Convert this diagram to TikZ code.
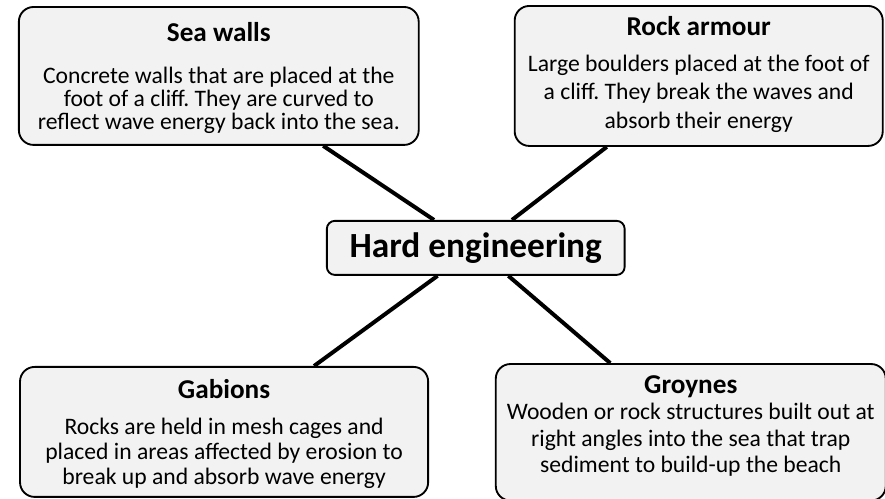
\documentclass[tikz,border=0pt]{standalone}
\usepackage{fontspec}
\setmainfont{Carlito}
\definecolor{boxgray}{HTML}{F2F2F2}
\tikzset{
  topic/.style={draw, line width=1.4pt, rounded corners=11pt, fill=boxgray, align=center, inner sep=0pt, font=\fontsize{17.8}{#1}\selectfont\frenchspacing},
  hub/.style={draw, line width=1.4pt, rounded corners=6pt, fill=boxgray, inner sep=0pt, font=\fontsize{26.6}{30}\selectfont\bfseries},
  spoke/.style={line width=3pt}
}
% bold heading with a fixed line height, and a fixed depth for the last line
\newcommand{\topichead}[1]{{\fontsize{20.5}{20}\selectfont\bfseries\rule{0pt}{22pt}#1}}
\newcommand{\lastdepth}[1]{\rule[-#1]{0pt}{#1}}
\begin{document}
\begin{tikzpicture}
\useasboundingbox (0,0) rectangle (23.42,-13.20);

\node [hub, minimum width=7.88cm, minimum height=1.43cm] (hard) at (12.59,-6.56) {Hard engineering};

\node [topic=17.3pt, minimum width=10.58cm, minimum height=3.65cm] (sea) at (5.79,-2.01) {\topichead{Sea walls}\\[14.4pt]
Concrete walls that are placed at the\\ foot of a cliff. They are curved to\\ reflect wave energy back into the sea.\lastdepth{8.1pt}};
\node [topic=21.2pt, minimum width=9.74cm, minimum height=3.65cm] (rock) at (18.49,-2.01) {\topichead{Rock armour}\\[6.3pt]
Large boulders placed at the foot of\\ a cliff. They break the waves and\\ absorb their energy\lastdepth{13.5pt}};
\node [topic=18.75pt, minimum width=10.80cm, minimum height=3.44cm] (gabions) at (5.93,-11.43) {\topichead{Gabions}\\[8.75pt]
Rocks are held in mesh cages and\\ placed in areas affected by erosion to\\ break up and absorb wave energy\lastdepth{7.5pt}};
\node [topic=20pt, minimum width=10.32cm, minimum height=3.41cm] (groynes) at (18.28,-11.44) {\topichead{Groynes}\\
Wooden or rock structures built out at\\ right angles into the sea that trap\\ sediment to build-up the beach\lastdepth{20.8pt}};

\draw [spoke] (hard) -- (sea);
\draw [spoke] (hard) -- (rock);
\draw [spoke] (hard) -- (gabions);
\draw [spoke] (hard) -- (groynes);
\end{tikzpicture}
\end{document}
